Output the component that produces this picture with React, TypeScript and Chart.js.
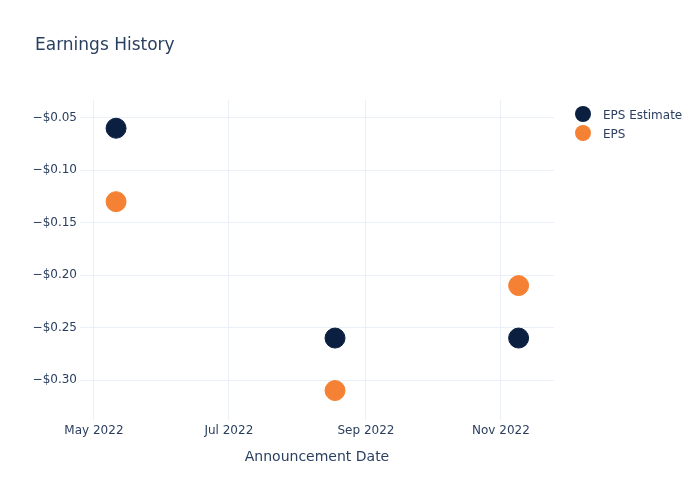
import React, { useEffect, useRef } from "react";
import { Chart, registerables } from "chart.js";

Chart.register(...registerables);

const dates = ["2022-05-11", "2022-08-18", "2022-11-09"];
const epsEstimate = [-0.06, -0.26, -0.26];
const eps = [-0.13, -0.31, -0.21];
const xTickDates = ["2022-05-01", "2022-07-01", "2022-09-01", "2022-11-01"];
const xTickLabels = ["May 2022", "Jul 2022", "Sep 2022", "Nov 2022"];
const yTicks = [-0.3, -0.25, -0.2, -0.15, -0.1, -0.05];
const seriesNames = ["EPS Estimate", "EPS"];
const seriesColors = ["#0b1f41", "#f58234"];

const toMs = (d: string) => {
  const [y, m, dd] = d.split("-").map(Number);
  return Date.UTC(y, m - 1, dd);
};

const FONT = "'DejaVu Sans', sans-serif";
const TEXT = "#2a3f5f";
const GRID = "#ebf0f8";

const overlay = {
  id: "overlay",
  afterDraw(chart: any) {
    const ctx = chart.ctx;
    ctx.save();
    ctx.fillStyle = TEXT;
    ctx.font = `17px ${FONT}`;
    ctx.textBaseline = "middle";
    ctx.textAlign = "left";
    ctx.fillText("Earnings History", 35, 45.5);
    ctx.font = `12px ${FONT}`;
    seriesNames.forEach((n, i) => {
      const y = 114 + i * 19;
      ctx.beginPath();
      ctx.arc(583, y, 8, 0, Math.PI * 2);
      ctx.fillStyle = seriesColors[i];
      ctx.fill();
      ctx.fillStyle = TEXT;
      ctx.fillText(n, 603, y + 1.5);
    });
    ctx.restore();
  },
};

export default function App() {
  const ref = useRef<HTMLCanvasElement>(null);
  useEffect(() => {
    document.body.style.margin = "0";
    const xs = dates.map(toMs);
    const chart = new Chart(ref.current!, {
      type: "scatter",
      data: {
        datasets: [
          {
            label: seriesNames[0],
            data: xs.map((x, i) => ({ x, y: epsEstimate[i] })),
            backgroundColor: seriesColors[0],
            borderColor: seriesColors[0],
            pointRadius: 10,
            pointHoverRadius: 10,
          },
          {
            label: seriesNames[1],
            data: xs.map((x, i) => ({ x, y: eps[i] })),
            backgroundColor: seriesColors[1],
            borderColor: seriesColors[1],
            pointRadius: 10,
            pointHoverRadius: 10,
          },
        ],
      },
      options: {
        responsive: false,
        animation: false,
        layout: { padding: { top: 100, right: 146, left: 0, bottom: 32 } },
        plugins: { legend: { display: false }, title: { display: false }, tooltip: { enabled: false } },
        scales: {
          x: {
            type: "linear",
            min: toMs("2022-04-24") + 0.7 * 86400000,
            max: toMs("2022-11-25"),
            border: { display: false },
            grid: { color: GRID, drawTicks: false },
            afterBuildTicks: (s: any) => {
              s.ticks = xTickDates.map((d) => ({ value: toMs(d) }));
            },
            afterFit: (s: any) => {
              s.height = 48;
            },
            ticks: {
              padding: 4,
              color: TEXT,
              font: { family: FONT, size: 12 },
              maxRotation: 0,
              autoSkip: false,
              callback: (v: any) => {
                const i = xTickDates.findIndex((d) => toMs(d) === v);
                return i >= 0 ? xTickLabels[i] : "";
              },
            },
            title: {
              display: true,
              text: "Announcement Date",
              color: TEXT,
              font: { family: FONT, size: 14 },
              padding: { top: 10, bottom: 2 },
            },
          },
          y: {
            min: -0.3381,
            max: -0.0331,
            border: { display: false },
            grid: { color: GRID, drawTicks: false },
            afterBuildTicks: (s: any) => {
              s.ticks = yTicks.map((v) => ({ value: v }));
            },
            afterFit: (s: any) => {
              s.width = 80;
            },
            ticks: {
              padding: 3,
              color: TEXT,
              font: { family: FONT, size: 12 },
              callback: (v: any) => "\u2212$" + Math.abs(Number(v)).toFixed(2),
            },
          },
        },
      },
      plugins: [overlay],
    });
    return () => chart.destroy();
  }, []);
  return (
    <div style={{ width: 700, height: 500 }}>
      <canvas ref={ref} width={700} height={500} />
    </div>
  );
}
